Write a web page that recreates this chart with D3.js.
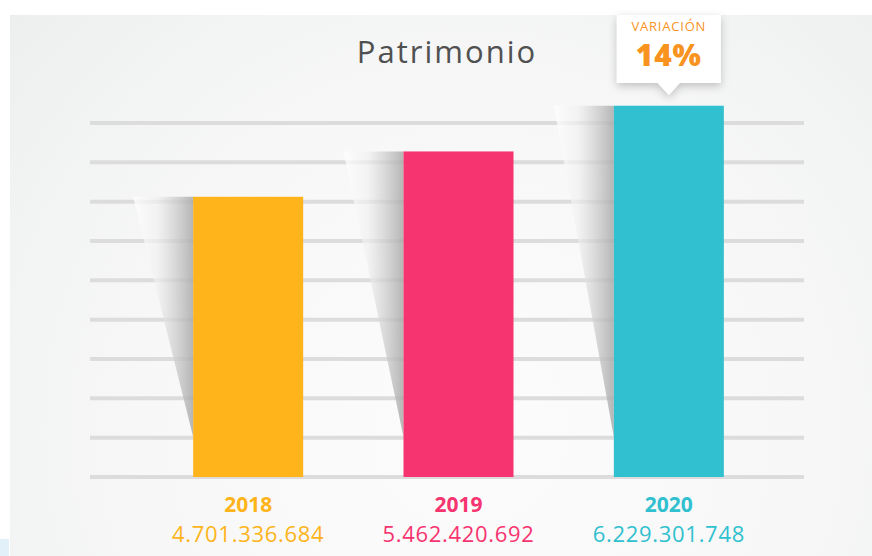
<!DOCTYPE html>
<meta charset="utf-8">
<script src="https://cdn.jsdelivr.net/npm/d3@7"></script>
<style>
  html, body { margin: 0; padding: 0; background: #fff; }
  svg { display: block; font-family: "Open Sans", "Noto Sans", sans-serif; }
</style>
<body>
<script>

// data
var years = ["2018", "2019", "2020"];
var values = [4701336684, 5462420692, 6229301748];
var valueLabels = ["4.701.336.684", "5.462.420.692", "6.229.301.748"];
var colors = ["#feb41a", "#f63470", "#30c0cf"];
var gridStep = 0.66e9;   // spacing of the decorative gridlines
var gridCount = 10;
var variation = "14%";

var width = 872, height = 556;

var svg = d3.select("body").append("svg")
    .attr("width", width)
    .attr("height", height);

var defs = svg.append("defs");

// panel background
var bg = defs.append("radialGradient").attr("id", "bg")
    .attr("gradientUnits", "userSpaceOnUse")
    .attr("cx", 470).attr("cy", 430).attr("r", 620);
bg.append("stop").attr("offset", 0).attr("stop-color", "#fcfcfc");
bg.append("stop").attr("offset", 0.55).attr("stop-color", "#f7f7f7");
bg.append("stop").attr("offset", 1).attr("stop-color", "#edefef");

// shadow beside each bar
var sh = defs.append("linearGradient").attr("id", "shade")
    .attr("x1", 0).attr("x2", 1).attr("y1", 0).attr("y2", 0);
sh.append("stop").attr("offset", 0).attr("stop-color", "#ffffff").attr("stop-opacity", 0.8);
sh.append("stop").attr("offset", 0.4).attr("stop-color", "#f0f0f0").attr("stop-opacity", 0.65);
sh.append("stop").attr("offset", 1).attr("stop-color", "#aaaaaa").attr("stop-opacity", 0.85);

var drop = defs.append("filter").attr("id", "drop")
    .attr("x", "-30%").attr("y", "-30%").attr("width", "160%").attr("height", "170%");
drop.append("feDropShadow").attr("dx", 0).attr("dy", 3).attr("stdDeviation", 4)
    .attr("flood-color", "#000").attr("flood-opacity", 0.22);

svg.append("rect").attr("x", 10).attr("y", 15)
    .attr("width", width - 10).attr("height", height - 15)
    .attr("fill", "url(#bg)");

svg.append("rect").attr("x", 0).attr("y", 539)
    .attr("width", 9).attr("height", height - 539)
    .attr("fill", "#e2f0f9");

// scales
var x = d3.scaleBand()
    .domain(years)
    .range([143, 774])
    .paddingInner(0.477)
    .paddingOuter(0.2385);

var y = d3.scaleLinear()
    .domain([0, 6e9])
    .range([477, 119.4]);

// gridlines
var grid = d3.range(gridCount).map(function(i) { return i * gridStep; });
svg.append("g").selectAll("line")
    .data(grid)
    .enter().append("line")
    .attr("x1", 90).attr("x2", 804)
    .attr("y1", function(d) { return y(d); })
    .attr("y2", function(d) { return y(d); })
    .attr("stroke", "#dcdcdc")
    .attr("stroke-width", 4);

var rows = years.map(function(yr, i) {
  return { year: yr, value: values[i], label: valueLabels[i], color: colors[i] };
});

// shadows
var shadowW = 60, shadowEnd = y(0) - 40;
svg.append("g").selectAll("path")
    .data(rows)
    .enter().append("path")
    .attr("d", function(d) {
      var x0 = x(d.year), top = y(d.value);
      return "M" + (x0 - shadowW) + "," + top +
             "L" + x0 + "," + top +
             "L" + x0 + "," + shadowEnd +
             "Q" + (x0 - shadowW * 0.55) + "," + (top + (shadowEnd - top) * 0.45) +
             " " + (x0 - shadowW) + "," + top + "Z";
    })
    .attr("fill", "url(#shade)");

// bars
svg.append("g").selectAll("rect")
    .data(rows)
    .enter().append("rect")
    .attr("x", function(d) { return x(d.year); })
    .attr("y", function(d) { return y(d.value); })
    .attr("width", x.bandwidth())
    .attr("height", function(d) { return y(0) - y(d.value); })
    .attr("fill", function(d) { return d.color; });

// labels under the bars
var lab = svg.append("g").selectAll("g")
    .data(rows)
    .enter().append("g")
    .attr("transform", function(d) { return "translate(" + (x(d.year) + x.bandwidth() / 2) + ",0)"; });

lab.append("text")
    .attr("y", 512)
    .attr("text-anchor", "middle")
    .style("font-size", "21px")
    .style("font-weight", 700)
    .style("fill", function(d) { return d.color; })
    .text(function(d) { return d.year; });

lab.append("text")
    .attr("y", 542)
    .attr("text-anchor", "middle")
    .style("font-size", "22px")
    .style("letter-spacing", "0.7px")
    .style("fill", function(d) { return d.color; })
    .text(function(d) { return d.label; });

// title
svg.append("text")
    .attr("x", 447).attr("y", 63)
    .attr("text-anchor", "middle")
    .style("font-size", "31px")
    .style("letter-spacing", "2px")
    .style("fill", "#505050")
    .text("Patrimonio");

// variation callout over the last bar
var last = rows[rows.length - 1];
var cx = x(last.year) + x.bandwidth() / 2;
var call = svg.append("g").attr("filter", "url(#drop)");
call.append("path")
    .attr("d", "M" + (cx - 52) + ",15 H" + (cx + 52) + " V83 H" + (cx + 11) +
               " L" + cx + ",95 L" + (cx - 11) + ",83 H" + (cx - 52) + " Z")
    .attr("fill", "#ffffff");

svg.append("text")
    .attr("x", cx).attr("y", 31)
    .attr("text-anchor", "middle")
    .style("font-size", "13px")
    .style("letter-spacing", "0.8px")
    .style("fill", "#f7931e")
    .text("VARIACIÓN");

svg.append("text")
    .attr("x", cx).attr("y", 66)
    .attr("text-anchor", "middle")
    .style("font-size", "30px")
    .style("font-weight", 800)
    .style("letter-spacing", "0.8px")
    .style("fill", "#f7931e")
    .text(variation);

</script>
</body>
